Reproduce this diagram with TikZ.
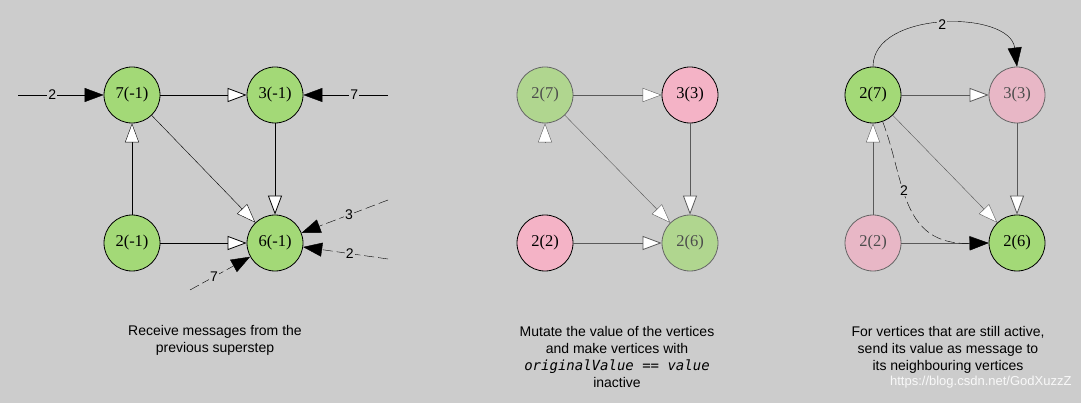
\documentclass[tikz,border=0pt]{standalone}
\usepackage{fontspec}
\setmainfont{Liberation Serif}
\newfontfamily\capf{Liberation Sans}
\newfontfamily\monof{DejaVu Sans Mono}
\usetikzlibrary{arrows.meta}
\definecolor{bg}{HTML}{CCCCCC}
\definecolor{gr}{HTML}{A3D977}
\definecolor{grf}{HTML}{B0D68F}
\definecolor{pk}{HTML}{F4B3C6}
\definecolor{pkf}{HTML}{E8B7C6}
\begin{document}
\begin{tikzpicture}[x=1pt,y=-1pt,
  v/.style={circle,minimum size=56pt,inner sep=0pt,font=\fontsize{16.5}{16.5}\selectfont,draw=black,thick},
  G/.style={v,fill=gr},
  GF/.style={v,fill=grf,draw=gray!80!black,text=gray!60!black},
  P/.style={v,fill=pk},
  PF/.style={v,fill=pkf,draw=gray!80!black,text=gray!60!black},
  oa/.style={-{Triangle[open,length=19pt,width=14pt,fill=white]}},
  fa/.style={-{Triangle[length=19pt,width=14pt]}},
  lbl/.style={fill=bg,inner sep=1pt,font=\capf\fontsize{14}{14}\selectfont},
  captxt/.style={align=center,font=\capf\fontsize{14}{17}\selectfont}]
\fill[bg] (0,0) rectangle (1081,403);
% panel 1
\node[G] (a1) at (132,95) {7(-1)};
\node[G] (b1) at (275,95) {3(-1)};
\node[G] (c1) at (132,243) {2(-1)};
\node[G] (d1) at (275,243) {6(-1)};
\draw[oa,thick] (a1) -- (b1);
\draw[oa] (c1) -- (a1);
\draw[oa] (a1) -- (d1);
\draw[oa,thick] (b1) -- (d1);
\draw[oa,thick] (c1) -- (d1);
\coordinate (i1) at (18,95);
\coordinate (i2) at (388,95);
\coordinate (i3) at (388,200);
\coordinate (i4) at (388,259);
\coordinate (i5) at (190,290);
\draw[fa] (i1) -- node[lbl,pos=0.4]{2} (a1);
\draw[fa] (i2) -- node[lbl,pos=0.4]{7} (b1);
\draw[fa,dash pattern=on 10pt off 4pt] (i3) -- node[lbl,pos=0.45]{3} (d1);
\draw[fa,dash pattern=on 10pt off 4pt] (i4) -- node[lbl,pos=0.45]{2} (d1);
\draw[fa,dash pattern=on 10pt off 4pt] (i5) -- node[lbl,pos=0.4]{7} (d1);
\node[captxt] at (215,340) {Receive messages from the\\previous superstep};
% panel 2
\node[GF] (a2) at (545,95) {2(7)};
\node[P] (b2) at (690,95) {3(3)};
\node[P] (c2) at (545,243) {2(2)};
\node[GF] (d2) at (690,243) {2(6)};
\draw[oa,gray!70!black] (a2) -- (b2);
\draw[oa,gray!70!black] (a2) -- (d2);
\draw[oa,gray!70!black,thick] (b2) -- (d2);
\draw[oa,gray!70!black,thick] (c2) -- (d2);
\coordinate (s2) at (545,142);
\draw[oa,gray!70!black] (s2) -- (a2);
\node[captxt] at (617,357) {Mutate the value of the vertices\\and make vertices with\\{\monof\itshape originalValue == value}\\inactive};
% panel 3
\node[G] (a3) at (873,95) {2(7)};
\node[PF] (b3) at (1017,95) {3(3)};
\node[PF] (c3) at (873,243) {2(2)};
\node[G] (d3) at (1017,243) {2(6)};
\draw[oa,gray!70!black,thick] (a3) -- (b3);
\draw[oa,gray!70!black] (c3) -- (a3);
\draw[oa,gray!70!black] (a3) -- (d3);
\draw[oa,gray!70!black,thick] (b3) -- (d3);
\draw[oa,gray!70!black,thick] (c3) -- (d3);
\draw[fa] (a3.north) .. controls (873,10) and (1010,10) .. node[lbl,pos=0.5]{2} (b3.north);
\draw[fa,dash pattern=on 10pt off 4pt] (a3.-70) .. controls (905,180) and (900,245) .. node[lbl,pos=0.4]{2} (d3.west);
\node[captxt] at (948,350) {For vertices that are still active,\\send its value as message to\\its neighbouring vertices};
\node[font=\capf\fontsize{13}{13}\selectfont,text=white!95!gray,anchor=east] at (1075,382) {https://blog.csdn.net/GodXuzzZ};
\end{tikzpicture}
\end{document}
